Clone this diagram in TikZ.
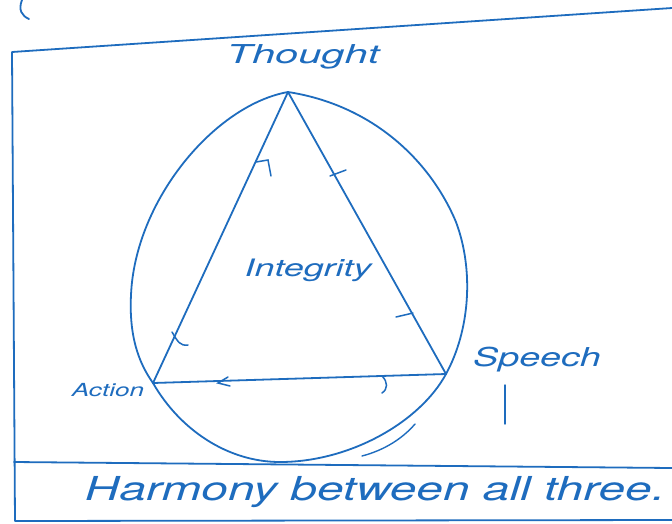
\documentclass[tikz,border=0pt]{standalone}
\usepackage{fontspec}
\setmainfont{TeX Gyre Heros}
\definecolor{pen}{RGB}{30,108,190}
\tikzset{
  pens/.style={draw=pen, line width=1.8pt, line cap=round, line join=round},
  hand/.style={text=pen, inner sep=0pt},
  tickm/.style={draw=pen, line width=1.5pt, line cap=round}
}
\newcommand{\hw}[3]{\scalebox{#2}[1]{\fontsize{#1}{#1}\selectfont\itshape #3}}
\begin{document}
\begin{tikzpicture}[x=1pt,y=-1pt]
\useasboundingbox[fill=white] (0,0) rectangle (672,523);
% small stroke top-left
\draw[pens] (22,0) .. controls (18,10) and (22,16) .. (29,19);
% frame
\coordinate (f1) at (12,52);
\coordinate (f2) at (672,8);
\coordinate (f3) at (15,521);
\coordinate (s1) at (14,462);
\coordinate (s2) at (672,468);
\coordinate (b2) at (672,520);
\draw[pens] (f2) -- (f1) -- (f3) -- (b2);
\draw[pens] (s1) -- (s2);
% triangle
\coordinate (T) at (288,92);
\coordinate (A) at (153,383);
\coordinate (S) at (446,374);
\draw[pens] (T) -- (A) -- (S) -- cycle;
% egg
\draw[pens] (T) .. controls (215,105) and (135,200) .. (131,295)
  .. controls (129,335) and (138,362) .. (A)
  .. controls (180,430) and (228,462) .. (280,462)
  .. controls (350,462) and (420,422) .. (S)
  .. controls (470,330) and (474,270) .. (456,222)
  .. controls (430,160) and (372,105) .. (T);
\draw[pens, line width=1.4pt] (362,456) .. controls (385,450) and (403,438) .. (415,424);
% ticks
\draw[tickm] (256,162) -- (268,160) -- (271,176);
\draw[tickm] (330,176) -- (346,170);
\draw[tickm] (396,317) -- (413,313);
\draw[tickm] (172,332) .. controls (178,342) and (180,346) .. (188,345);
\draw[tickm] (228,377) -- (218,383) -- (230,386);
\draw[tickm] (382,376) .. controls (388,382) and (388,389) .. (382,393);
% labels
\node[hand] (lT) at (303,57) {\hw{26}{1.6}{Thought}};
\node[hand] (lI) at (308,270) {\hw{24}{1.5}{Integrity}};
\node[hand] (lA) at (108,390) {\hw{18}{1.45}{Action}};
\node[hand] (lS) at (537,360) {\hw{26}{1.45}{Speech}};
\draw[pens, line width=1.4pt] (505,385) -- (505,424);
\node[hand] (lH) at (375,492) {\hw{33}{1.45}{Harmony between all three.}};
\end{tikzpicture}
\end{document}
